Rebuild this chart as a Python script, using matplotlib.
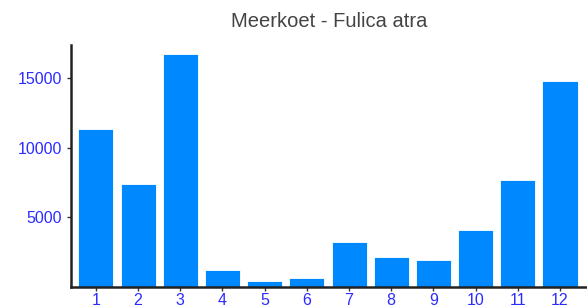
import matplotlib.pyplot as plt

# --- DATA ---
months = [1, 2, 3, 4, 5, 6, 7, 8, 9, 10, 11, 12]
counts = [11350, 7400, 16750, 1200, 430, 650, 3250, 2150, 1950, 4100, 7700, 14800]
yticks = [5000, 10000, 15000]

plt.rcParams['font.family'] = ['Liberation Sans', 'DejaVu Sans']

fig = plt.figure(figsize=(5.87, 3.08), dpi=100)
ax = fig.add_axes([0.121, 0.068, 0.879, 0.786])

ax.bar(months, counts, width=0.83, color='#0088ff', edgecolor='white', linewidth=0.6)

ax.set_xlim(0.41, 12.64)
ax.set_ylim(0, 17400)
ax.set_xticks(months)
ax.set_yticks(yticks)
ax.tick_params(axis='both', colors='#333333', labelcolor='#2b2bff', labelsize=11.5,
               length=3, width=1)
ax.tick_params(axis='x', pad=1)

for s in ['top', 'right']:
    ax.spines[s].set_visible(False)
for s in ['left', 'bottom']:
    ax.spines[s].set_linewidth(1.8)
    ax.spines[s].set_color('#222222')

ax.set_title("Meerkoet - Fulica atra", fontsize=14.5, color='#444444', pad=13)

fig.savefig("out.png", dpi=100)
